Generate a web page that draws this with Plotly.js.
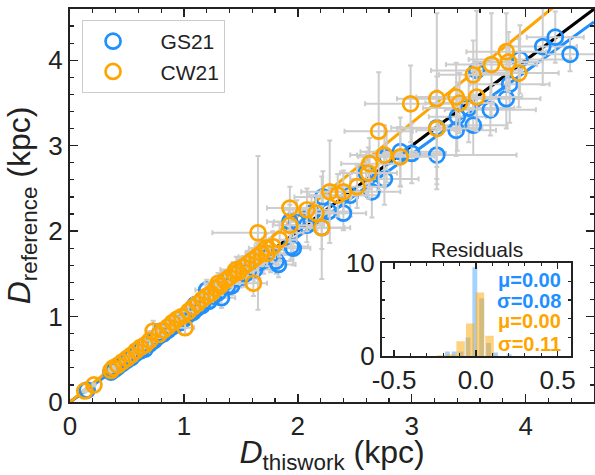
<!DOCTYPE html>
<html>
<head>
<meta charset="utf-8">
<script src="https://cdn.plot.ly/plotly-3.0.1.min.js"></script>
<style>html,body{margin:0;padding:0;background:#fff;}#chart{width:595px;height:475px;}</style>
</head>
<body>
<div id="chart"></div>
<script>
// ---- GS21 (blue) ----
const gsX  = [4.39,4.26,4.15,3.95,3.57,3.86,3.83,3.69,3.54,3.39,3.40,3.50,3.22,3.22,3.00,2.90,2.76,2.78,2.65,2.60,2.46,2.40,2.27,2.22,2.21,2.12,2.08,1.99,1.96,1.94,1.93,1.83,1.81,
              1.76,1.70,1.66,1.62,1.58,1.54,1.50,1.46,1.42,1.38,1.33,1.30,1.26,1.22,1.20,1.16,1.12,1.08,1.04,1.00,0.97,0.93,0.90,0.86,0.82,0.78,0.74,0.70,0.66,0.62,0.58,0.54,0.50,0.46,0.42,0.39,0.36,0.15,1.48,1.36,1.10,0.80];
const gsY  = [4.07,4.27,4.16,4.01,3.88,3.72,3.55,3.42,3.24,3.18,3.34,3.44,2.89,3.21,2.91,2.93,2.61,2.87,2.46,2.68,2.42,2.21,2.23,2.40,2.04,2.21,2.07,2.11,1.80,1.82,2.11,1.61,1.65,
              1.72,1.66,1.63,1.55,1.57,1.50,1.46,1.44,1.36,1.35,1.22,1.28,1.24,1.18,1.31,1.13,1.10,1.05,1.02,0.97,0.93,0.91,0.88,0.84,0.80,0.77,0.72,0.68,0.62,0.60,0.57,0.52,0.49,0.45,0.41,0.38,0.35,0.14,1.52,1.40,1.14,0.83];
const gsXerr = [0.22,0.25,0.30,0.45,0.40,0.35,0.30,0.40,0.30,0.35,0.25,0.40,0.70,0.40,0.30,0.35,0.30,0.25,0.25,0.20,0.25,0.20,0.20,0.25,0.25,0.20,0.15,0.20,0.15,0.15,0.20,0.15,0.15,
              0.18,0.15,0.15,0.14,0.16,0.12,0.14,0.10,0.13,0.10,0.12,0.10,0.10,0.09,0.10,0.08,0.09,0.07,0.08,0.06,0.07,0.05,0.06,0.05,0.05,0.04,0.04,0.04,0.03,0.03,0.03,0.03,0.03,0.02,0.02,0.02,0.02,0.01,0.15,0.12,0.08,0.05];
const gsYerr = [0.20,0.30,0.45,0.40,0.70,0.45,0.35,0.30,0.35,0.30,0.40,0.40,0.40,0.60,0.35,0.40,0.30,0.30,0.30,0.25,0.25,0.20,0.25,0.30,0.60,0.20,0.20,0.25,0.20,0.15,0.20,0.15,0.15,
              0.20,0.16,0.18,0.15,0.14,0.15,0.12,0.14,0.11,0.12,0.12,0.10,0.11,0.09,0.12,0.08,0.10,0.08,0.08,0.07,0.07,0.06,0.06,0.05,0.05,0.05,0.04,0.04,0.04,0.03,0.03,0.03,0.03,0.02,0.02,0.02,0.02,0.01,0.16,0.12,0.09,0.05];

// ---- CW21 (orange) ----
const cwX  = [3.83,3.85,3.94,3.70,3.54,2.99,3.22,3.39,3.42,3.57,3.22,2.90,2.76,2.71,2.63,2.62,2.28,1.93,2.08,2.16,2.21,2.35,2.40,2.52,1.65,1.84,1.73,1.93,1.61,
              1.78,1.72,1.68,1.64,1.60,1.56,1.52,1.48,1.44,1.40,1.36,1.32,1.28,1.24,1.20,1.16,1.12,1.08,1.04,1.01,0.98,0.94,0.90,0.86,0.82,0.73,0.78,0.70,0.66,0.62,0.58,0.54,0.50,0.46,0.42,0.38,0.36,0.13,0.21,1.46,1.30];
const cwY  = [4.10,3.98,3.85,3.95,3.83,3.49,3.55,3.57,3.50,3.57,3.20,2.87,2.89,3.17,2.79,2.68,2.46,2.27,2.25,2.21,2.04,2.42,2.46,2.52,1.98,1.90,1.74,2.07,1.39,
              1.82,1.80,1.74,1.70,1.66,1.62,1.58,1.52,1.50,1.46,1.42,1.36,1.33,1.27,1.24,1.20,1.15,1.11,1.06,0.87,1.00,0.97,0.93,0.88,0.84,0.83,0.79,0.72,0.67,0.64,0.60,0.55,0.51,0.47,0.43,0.40,0.37,0.13,0.20,1.55,1.39];
const cwXerr = [0.35,0.30,0.35,0.40,0.30,0.40,0.35,0.35,0.30,0.40,0.35,0.30,0.30,0.30,0.25,0.25,0.25,0.20,0.20,0.20,0.20,0.25,0.20,0.25,0.40,0.15,0.15,0.15,0.12,
              0.16,0.15,0.14,0.16,0.13,0.14,0.12,0.13,0.11,0.12,0.10,0.11,0.09,0.10,0.08,0.09,0.07,0.08,0.07,0.08,0.06,0.06,0.05,0.05,0.05,0.06,0.04,0.04,0.04,0.03,0.03,0.03,0.03,0.02,0.02,0.02,0.02,0.01,0.01,0.14,0.12];
const cwYerr = [0.45,0.35,0.40,0.60,0.40,0.45,1.00,0.40,0.35,0.40,0.45,0.35,0.35,0.69,0.30,0.30,0.60,0.25,0.25,0.20,0.25,0.25,0.25,0.25,0.90,0.20,0.15,0.20,0.15,
              0.18,0.17,0.15,0.16,0.14,0.15,0.13,0.14,0.12,0.12,0.11,0.11,0.10,0.10,0.09,0.09,0.08,0.08,0.07,0.08,0.06,0.06,0.06,0.05,0.05,0.12,0.04,0.04,0.04,0.04,0.03,0.03,0.03,0.02,0.02,0.02,0.02,0.01,0.01,0.15,0.12];

// ---- reference lines ----
const lineX = [0, 4.6];
const slopeOneToOne = 1.0;
const slopeGS = 0.967;
const slopeCW = 1.089;

// ---- residual histograms (density) ----
const gsBinCenters = [-0.174,-0.132,-0.090,-0.048,-0.006,0.036,0.078,0.120,0.204];
const gsDensity    = [0.5,0.5,0.5,2.0,9.5,6.2,1.4,0.4,0.2];
const cwBinCenters = [-0.211,-0.152,-0.093,-0.034,0.025,0.084];
const cwDensity    = [0.1,0.2,1.6,3.5,6.8,2.2];

const seriesNames = ['GS21','CW21'];
const gsStats = ['μ=0.00','σ=0.08'];
const cwStats = ['μ=0.00','σ=0.11'];

const BLUE = '#1E90FF', ORANGE = '#FFA500', GRAY = '#cdcdcd', AX = '#222222';
const FONT = 'Liberation Sans, Arial, sans-serif';
const PAD = '&nbsp;&nbsp;&nbsp;';

function errs(a){ return {type:'data', array:a, visible:true, color:GRAY, thickness:2, width:2.5}; }

const traces = [
  {x: lineX, y: lineX.map(v => v*slopeOneToOne), mode:'lines', line:{color:'#000', width:3}, showlegend:false, hoverinfo:'skip'},
  {x: lineX, y: lineX.map(v => v*slopeGS), mode:'lines', line:{color:BLUE, width:3}, showlegend:false, hoverinfo:'skip'},
  {x: lineX, y: lineX.map(v => v*slopeCW), mode:'lines', line:{color:ORANGE, width:3}, showlegend:false, hoverinfo:'skip'},
  {x: gsX, y: gsY, name: PAD + seriesNames[0], mode:'markers', error_x: errs(gsXerr), error_y: errs(gsYerr),
   marker:{symbol:'circle-open', size:15, color:BLUE, line:{width:2.7, color:BLUE}}},
  {x: cwX, y: cwY, name: PAD + seriesNames[1], mode:'markers', error_x: errs(cwXerr), error_y: errs(cwYerr),
   marker:{symbol:'circle-open', size:15, color:ORANGE, line:{width:2.7, color:ORANGE}}},
  {type:'bar', x: gsBinCenters, y: gsDensity, width:0.03, xaxis:'x2', yaxis:'y2', marker:{color:BLUE, opacity:0.4, line:{width:0}}, showlegend:false},
  {type:'bar', x: cwBinCenters, y: cwDensity, width:0.052, xaxis:'x2', yaxis:'y2', marker:{color:ORANGE, opacity:0.5, line:{width:0}}, showlegend:false}
];

const axCommon = {showline:true, linecolor:AX, linewidth:2, mirror:'allticks', ticks:'inside', tickcolor:AX,
  tickwidth:1.5, showgrid:false, zeroline:false, tickfont:{family:FONT, size:26, color:AX}};

const layout = {
  width:595, height:475,
  margin:{l:70, r:1, t:9, b:73},
  paper_bgcolor:'#fff', plot_bgcolor:'#fff',
  barmode:'overlay',
  font:{family:FONT, color:AX},
  xaxis: Object.assign({}, axCommon, {range:[0,4.6], tickvals:[0,1,2,3,4], ticklen:8,
    minor:{dtick:0.2, ticklen:4, ticks:'inside', tickcolor:AX, tickwidth:1.2},
    title:{text:'<i>D</i><sub>thiswork</sub> (kpc)', font:{family:FONT, size:32, color:AX}, standoff:13}}),
  yaxis: Object.assign({}, axCommon, {range:[0,4.6], tickvals:[0,1,2,3,4], ticklen:8,
    minor:{dtick:0.2, ticklen:4, ticks:'inside', tickcolor:AX, tickwidth:1.2},
    title:{text:'<i>D</i><sub>reference</sub> (kpc)', font:{family:FONT, size:32, color:AX}, standoff:8}}),
  xaxis2: Object.assign({}, axCommon, {domain:[0.595,0.957], anchor:'y2', range:[-0.575,0.585], linewidth:1.8,
    tickvals:[-0.5,0,0.5], ticktext:['-0.5','0.0','0.5'], ticklen:6,
    minor:{dtick:0.1, ticklen:3.5, ticks:'inside', tickcolor:AX, tickwidth:1.2}}),
  yaxis2: Object.assign({}, axCommon, {domain:[0.1165,0.3545], anchor:'x2', range:[0,10], linewidth:1.8,
    tickvals:[0,10], ticklen:6,
    minor:{dtick:2, ticklen:3.5, ticks:'inside', tickcolor:AX, tickwidth:1.2}}),
  legend:{x:0.023, y:0.972, xanchor:'left', yanchor:'top', bgcolor:'#fff', bordercolor:'#cccccc', borderwidth:1,
    font:{family:FONT, size:21, color:AX}, itemwidth:50},
  annotations:[
    {xref:'x2 domain', yref:'y2 domain', x:0.5, y:1.0, xanchor:'center', yanchor:'bottom', text:'Residuals', showarrow:false,
     font:{family:FONT, size:21, color:AX}},
    {xref:'x2 domain', yref:'y2 domain', x:0.955, y:0.815, xanchor:'right', yanchor:'middle', text:'<b>'+gsStats[0]+'</b>', showarrow:false, font:{family:FONT, size:20, color:BLUE}},
    {xref:'x2 domain', yref:'y2 domain', x:0.955, y:0.595, xanchor:'right', yanchor:'middle', text:'<b>'+gsStats[1]+'</b>', showarrow:false, font:{family:FONT, size:20, color:BLUE}},
    {xref:'x2 domain', yref:'y2 domain', x:0.955, y:0.375, xanchor:'right', yanchor:'middle', text:'<b>'+cwStats[0]+'</b>', showarrow:false, font:{family:FONT, size:20, color:ORANGE}},
    {xref:'x2 domain', yref:'y2 domain', x:0.955, y:0.130, xanchor:'right', yanchor:'middle', text:'<b>'+cwStats[1]+'</b>', showarrow:false, font:{family:FONT, size:20, color:ORANGE}}
  ]
};

Plotly.newPlot('chart', traces, layout, {displayModeBar:false, staticPlot:true});
</script>
</body>
</html>
